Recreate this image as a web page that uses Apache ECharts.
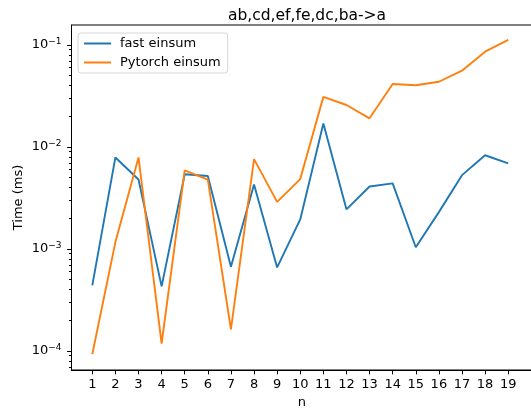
<!DOCTYPE html>
<html>
<head>
<meta charset="utf-8">
<script src="https://cdn.jsdelivr.net/npm/echarts@6/dist/echarts.min.js"></script>
<style>
  html, body { margin: 0; padding: 0; background: #fff; }
  #chart { width: 531px; height: 409px; }
</style>
</head>
<body>
<div id="chart"></div>
<script>
// Problem size n
const nValues = [1, 2, 3, 4, 5, 6, 7, 8, 9, 10, 11, 12, 13, 14, 15, 16, 17, 18, 19];

// Timings in milliseconds
const fastEinsum = [4.4e-4, 7.9e-3, 4.8e-3, 4.3e-4, 5.4e-3, 5.2e-3, 6.7e-4, 4.3e-3, 6.6e-4, 1.95e-3,
                    1.7e-2, 2.45e-3, 4.1e-3, 4.4e-3, 1.04e-3, 2.3e-3, 5.3e-3, 8.3e-3, 6.9e-3];
const pytorchEinsum = [9.3e-5, 1.17e-3, 7.9e-3, 1.18e-4, 5.9e-3, 4.8e-3, 1.63e-4, 7.6e-3, 2.9e-3, 4.85e-3,
                       3.1e-2, 2.58e-2, 1.91e-2, 4.15e-2, 4.03e-2, 4.36e-2, 5.6e-2, 8.6e-2, 0.112];

// Axis ticks
const xTicks = nValues;
const yMajorTicks = [1e-4, 1e-3, 1e-2, 1e-1];
const yMinorTicks = [7e-5, 8e-5, 9e-5,
                     2e-4, 3e-4, 4e-4, 5e-4, 6e-4, 7e-4, 8e-4, 9e-4,
                     2e-3, 3e-3, 4e-3, 5e-3, 6e-3, 7e-3, 8e-3, 9e-3,
                     2e-2, 3e-2, 4e-2, 5e-2, 6e-2, 7e-2, 8e-2, 9e-2];

const FONT = 'DejaVu Sans';
const zip = (xs, ys) => xs.map((x, i) => [x, ys[i]]);

const chart = echarts.init(document.getElementById('chart'), null, { renderer: 'canvas' });

const yRange = { min: 6.52e-5, max: 0.157 };

chart.setOption({
  animation: false,
  backgroundColor: '#fff',
  title: {
    text: 'ab,cd,ef,fe,dc,ba->a',
    left: 302,
    textAlign: 'center',
    top: 3,
    textStyle: { fontFamily: FONT, fontSize: 15.5, fontWeight: 'normal', color: '#000' }
  },
  legend: {
    orient: 'vertical',
    left: 78,
    top: 33,
    padding: [4, 7, 4, 5],
    itemWidth: 27,
    itemHeight: 14,
    itemGap: 6,
    backgroundColor: 'rgba(255,255,255,0.8)',
    borderColor: '#d6d6d6',
    borderWidth: 1,
    borderRadius: 3,
    itemStyle: { opacity: 0 },
    textStyle: { fontFamily: FONT, fontSize: 13, color: '#000', padding: [0, 0, 0, 4] },
    data: ['fast einsum', 'Pytorch einsum']
  },
  grid: {
    left: 71.5, right: -1, top: 25, bottom: 39,
    outerBoundsMode: 'none',
    containLabel: false,
    show: true, borderColor: '#000', borderWidth: 1, backgroundColor: 'transparent'
  },
  xAxis: {
    type: 'value',
    min: 0.1,
    max: 20.03,
    name: 'n',
    nameLocation: 'middle',
    nameGap: 26,
    nameTextStyle: { fontFamily: FONT, fontSize: 13, color: '#000' },
    axisLine: { show: true, onZero: false, lineStyle: { color: '#000', width: 1 } },
    axisTick: { show: true, inside: false, length: 4.4, lineStyle: { color: '#000' }, customValues: xTicks },
    axisLabel: { fontFamily: FONT, fontSize: 13, color: '#000', margin: 8, customValues: xTicks },
    splitLine: { show: false }
  },
  yAxis: [
    {
      type: 'log',
      logBase: 10,
      min: yRange.min,
      max: yRange.max,
      position: 'left',
      name: 'Time (ms)',
      nameLocation: 'middle',
      nameRotate: 90,
      nameGap: 46,
      nameMoveOverlap: false,
      nameTextStyle: { fontFamily: FONT, fontSize: 13, color: '#000' },
      axisLine: { show: true, lineStyle: { color: '#000', width: 1 } },
      axisTick: { show: true, inside: false, length: 4.4, lineStyle: { color: '#000' }, customValues: yMajorTicks },
      axisLabel: {
        customValues: yMajorTicks,
        margin: 10,
        formatter: v => '{b|10}{s|' + String(Math.round(Math.log10(v))).replace('-', '\u2212') + '}',
        rich: {
          b: { fontFamily: FONT, fontSize: 13, color: '#000' },
          s: { fontFamily: FONT, fontSize: 9, color: '#000', padding: [0, 0, 7, 0] }
        }
      },
      splitLine: { show: false }
    },
    {
      type: 'log',
      logBase: 10,
      min: yRange.min,
      max: yRange.max,
      position: 'left',
      axisLine: { show: false },
      axisTick: { show: true, inside: false, length: 2.5, lineStyle: { color: '#000' }, customValues: yMinorTicks },
      axisLabel: { show: false },
      splitLine: { show: false }
    }
  ],
  series: [
    {
      name: 'fast einsum',
      type: 'line',
      yAxisIndex: 0,
      data: zip(nValues, fastEinsum),
      symbol: 'none',
      lineStyle: { color: '#1f77b4', width: 1.9 },
      itemStyle: { color: '#1f77b4' }
    },
    {
      name: 'Pytorch einsum',
      type: 'line',
      yAxisIndex: 0,
      data: zip(nValues, pytorchEinsum),
      symbol: 'none',
      lineStyle: { color: '#ff7f0e', width: 1.9 },
      itemStyle: { color: '#ff7f0e' }
    }
  ]
});
</script>
</body>
</html>
